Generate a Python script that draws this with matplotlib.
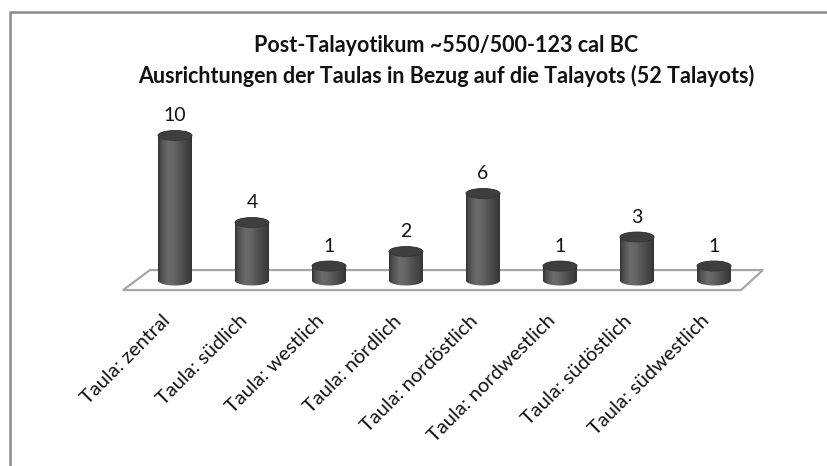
import numpy as np
import matplotlib
matplotlib.use("Agg")
import matplotlib.pyplot as plt
from matplotlib.patches import Ellipse, Polygon
from matplotlib.lines import Line2D

categories = ["Taula: zentral", "Taula: südlich", "Taula: westlich", "Taula: nördlich",
              "Taula: nordöstlich", "Taula: nordwestlich", "Taula: südöstlich",
              "Taula: südwestlich"]
counts = [10, 4, 1, 2, 6, 1, 3, 1]
title = "Post-Talayotikum ~550/500-123 cal BC\nAusrichtungen der Taulas in Bezug auf die Talayots (52 Talayots)"

plt.rcParams["font.family"] = ["Lato", "DejaVu Sans"]

W, H = 827, 466
fig = plt.figure(figsize=(W / 100, H / 100), dpi=100)
ax = fig.add_axes([0, 0, 1, 1])

# pixel layout: category i at x = 175 + 77*i, value 0 at y = 280.5 (from top), 14.5 px per unit
x0, dx = 175.0, 77.0
y0, dy = 280.5, 14.5
ax.set_xlim(-x0 / dx, (W - x0) / dx)
ax.set_ylim((y0 - H) / dy, y0 / dy)
ax.axis("off")

# floor of the 3d plot
floor = Polygon([(-0.675, -0.66), (-0.325, 0.72), (7.636, 0.72), (7.35, -0.66)],
                closed=True, facecolor="white", edgecolor="#a6a6a6", lw=1.6, zorder=1)
ax.add_patch(floor)

bw = 34 / dx      # cylinder width
eh = 10 / dy      # ellipse height

# horizontal shading across a cylinder
prof_x = [0.0, 0.08, 0.3, 0.45, 0.7, 0.92, 1.0]
prof_v = [0.20, 0.30, 0.42, 0.40, 0.31, 0.24, 0.20]
grad = np.interp(np.linspace(0, 1, 64), prof_x, prof_v)
img = np.dstack([grad, grad, grad])[0][None, :, :]

for i, v in enumerate(counts):
    t = np.linspace(np.pi, 2 * np.pi, 40)
    bottom = np.column_stack([i + bw / 2 * np.cos(t), eh / 2 * np.sin(t)])
    t2 = np.linspace(0, np.pi, 40)
    top = np.column_stack([i + bw / 2 * np.cos(t2), v + eh / 2 * np.sin(t2)])
    body = Polygon(np.vstack([bottom, top]), closed=True, facecolor="none",
                   edgecolor="none", zorder=2)
    ax.add_patch(body)
    im = ax.imshow(img, extent=(i - bw / 2, i + bw / 2, -eh, v + eh), aspect="auto",
                   interpolation="bilinear", zorder=2)
    im.set_clip_path(body)
    ax.add_patch(Ellipse((i, v), bw, eh, facecolor="#3e3e3e", edgecolor="#343434",
                         lw=0.6, zorder=3))
    ax.annotate(str(v), (i, v), xytext=(0, 8), textcoords="offset points",
                ha="center", va="bottom", fontsize=14, color="#111111", zorder=4)
    ax.text(i - 0.1, (y0 - 318) / dy, categories[i], rotation=45,
            rotation_mode="anchor", ha="right", va="center", fontsize=14.5,
            color="#111111")

fig.text(446 / W, 1 - 61 / H, title, ha="center", va="center", fontsize=15.5,
         fontweight="bold", linespacing=1.55, color="#111111")

# chart frame (top and left edges visible)
fig.add_artist(Line2D([10 / W, 10 / W, 1.0], [0.0, 1 - 12 / H, 1 - 12 / H],
                      transform=fig.transFigure, color="#8c8c8c", lw=1.8))

fig.savefig("out.png", dpi=100)
